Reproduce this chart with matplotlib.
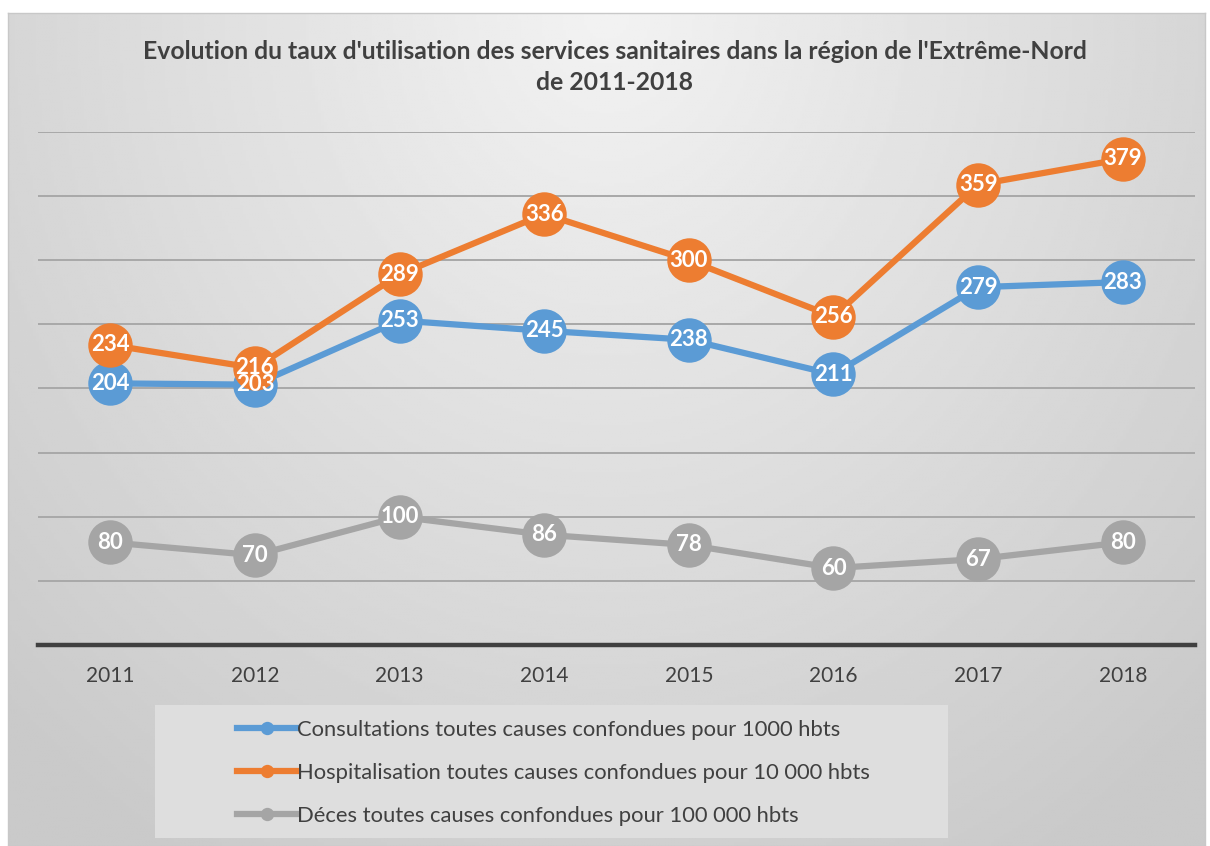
#!/usr/bin/env python3
# -*- coding: utf-8 -*-

import numpy as np
import matplotlib

matplotlib.use("Agg")
import matplotlib.pyplot as plot
from matplotlib.patches import Rectangle

plot.rcParams["font.family"] = ["Lato", "DejaVu Sans"]

years = ["2011", "2012", "2013", "2014", "2015", "2016", "2017", "2018"]
consultations = [204, 203, 253, 245, 238, 211, 279, 283]
hospitalisation = [234, 216, 289, 336, 300, 256, 359, 379]
deces = [80, 70, 100, 86, 78, 60, 67, 80]

series_labels = [
    "Consultations toutes causes confondues pour 1000 hbts",
    "Hospitalisation toutes causes confondues pour 10 000 hbts",
    "Déces toutes causes confondues pour 100 000 hbts",
]
colors = ["#5b9bd5", "#ed7d31", "#a5a5a5"]
title = ("Evolution du taux d'utilisation des services sanitaires dans la région de l'Extrême-Nord\n"
         "de 2011-2018")

W, H = 1210, 846
fig = plot.figure(figsize=(W / 100, H / 100), dpi=100, facecolor="white")

# gradient background of the chart box
bg = fig.add_axes([8 / W, 0, (1205 - 8) / W, (H - 13) / H])
gx, gy = np.meshgrid(np.linspace(-1, 1, 400), np.linspace(0, 1, 300))
dist = np.sqrt((gx * 0.9) ** 2 + (gy * 1.1) ** 2)
bg.imshow(0.95 - 0.16 * np.clip(dist, 0, 1.3) / 1.3, cmap="gray", vmin=0, vmax=1,
          aspect="auto", extent=(0, 1, 0, 1), origin="upper")
bg.set_xticks([])
bg.set_yticks([])
for sp in bg.spines.values():
    sp.set_color("#c8c8c8")
    sp.set_linewidth(1.0)
bg.set_zorder(-10)

ax = fig.add_axes([38 / W, (H - 645) / H, (1195 - 38) / W, (645 - 132) / H])
ax.patch.set_alpha(0)
x = np.arange(len(years))
ax.set_xlim(-0.5, len(years) - 0.5)
ax.set_ylim(0, 400)
ax.set_yticks(np.arange(50, 401, 50))
ax.yaxis.grid(True, color="#a8a8a8", linewidth=1.4)
ax.tick_params(axis="y", length=0, labelleft=False)
ax.set_xticks(x)
ax.set_xticklabels(years, fontsize=15, color="#404040")
ax.tick_params(axis="x", length=0, pad=15)
for name in ["top", "right", "left"]:
    ax.spines[name].set_visible(False)
ax.spines["bottom"].set_color("#404040")
ax.spines["bottom"].set_linewidth(3.2)
ax.set_axisbelow(True)

for vals, col, lab, z in zip([consultations, hospitalisation, deces], colors, series_labels, [3, 4, 5]):
    ax.plot(x, vals, color=col, linewidth=4.5, marker="o", markersize=32,
            markeredgewidth=0, label=lab, zorder=z, clip_on=False)
    for xi, v in zip(x, vals):
        ax.text(xi, v, str(v), color="white", fontsize=16, fontweight="bold",
                ha="center", va="center", zorder=10, clip_on=False)

fig.text(615 / W, 1 - 67 / H, title, ha="center", va="center", fontsize=17.8,
         fontweight="bold", color="#404040", linespacing=1.45)

# legend box
fig.patches.append(Rectangle((155 / W, 1 - 838 / H), (948 - 155) / W, (838 - 705) / H,
                             transform=fig.transFigure, facecolor="#dedede",
                             edgecolor="none", zorder=0))
handles, labels = ax.get_legend_handles_labels()
leg = fig.legend(handles, labels, loc="upper left",
                 bbox_to_anchor=(237 / W, 1 - 720 / H), frameon=False,
                 fontsize=15.8, labelcolor="#404040", handlelength=2.75,
                 handletextpad=0.0, labelspacing=1.05, borderpad=0,
                 borderaxespad=0, markerscale=0.3)

plot.savefig("out.png", dpi=100, facecolor="white")
